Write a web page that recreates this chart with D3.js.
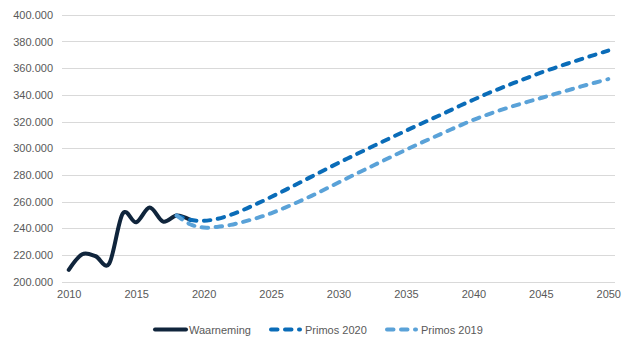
<!DOCTYPE html>
<html>
<head>
<meta charset="utf-8">
<script src="https://cdn.jsdelivr.net/npm/d3@7/dist/d3.min.js"></script>
<style>
  html, body { margin: 0; padding: 0; background: #ffffff; }
  svg { display: block; font-family: "Liberation Sans", Arial, sans-serif; }
</style>
</head>
<body>
<svg id="chart" width="629" height="340"></svg>
<script>
// Population figures (thousands) per year
const years = d3.range(2010, 2051);
const yTicks = [200, 220, 240, 260, 280, 300, 320, 340, 360, 380, 400];
const xTickYears = [2010, 2015, 2020, 2025, 2030, 2035, 2040, 2045, 2050];

const waarnemingYears = [2010, 2011, 2012, 2013, 2014, 2015, 2016, 2017, 2018, 2019];
const waarneming = [208.8, 220.5, 219.0, 213.5, 251.0, 244.5, 255.5, 245.0, 249.5, 246.3];

const primosYears = d3.range(2018, 2051);
const primos2020 = [
  249.5, 246.3, 245.6, 247.0, 250.0, 254.0, 258.6, 263.4, 268.4, 273.5,
  278.7, 283.9, 289.0, 293.9, 298.8, 303.6, 308.4, 313.1, 317.8, 322.4,
  327.0, 331.8, 336.3, 340.8, 344.9, 348.9, 352.8, 356.6, 360.1, 363.5,
  366.8, 370.0, 373.2
];
const primos2019 = [
  249.5, 243.0, 240.5, 241.0, 242.5, 245.0, 247.8, 251.2, 255.3, 259.7,
  264.3, 269.2, 274.3, 279.3, 284.2, 289.1, 294.0, 298.8, 303.5, 308.0,
  312.5, 317.0, 321.3, 325.0, 328.5, 331.7, 334.7, 337.6, 340.5, 343.4,
  346.3, 349.1, 351.8
];

const seriesNames = ["Waarneming", "Primos 2020", "Primos 2019"];
const seriesColors = ["#10253c", "#0a6cb8", "#5aa2d8"];

const svg = d3.select("#chart");

const x = d3.scalePoint().domain(years).range([62, 615]).padding(0.5);
const y = d3.scaleLinear().domain([200, 400]).range([281.6, 14.8]);

const fmt = v => d3.format(",")(v * 1000).replace(/,/g, ".");

// horizontal gridlines
svg.append("g")
  .selectAll("line")
  .data(yTicks)
  .join("line")
  .attr("x1", 62).attr("x2", 615)
  .attr("y1", d => Math.round(y(d)) + 0.5)
  .attr("y2", d => Math.round(y(d)) + 0.5)
  .attr("stroke", "#d9d9d9")
  .attr("stroke-width", 1);

// y axis labels
const yAxis = d3.axisLeft(y).tickValues(yTicks).tickFormat(fmt).tickSize(0).tickPadding(0);
svg.append("g")
  .attr("transform", "translate(53,0)")
  .call(yAxis)
  .call(g => g.select(".domain").remove())
  .call(g => g.selectAll("text")
    .attr("fill", "#595959")
    .style("font-size", "11px")
    .style("font-family", "'Liberation Sans', Arial, sans-serif"));

// x axis labels
const xAxis = d3.axisBottom(x).tickValues(xTickYears).tickSize(0).tickPadding(0);
svg.append("g")
  .attr("transform", "translate(0,290)")
  .call(xAxis)
  .call(g => g.select(".domain").remove())
  .call(g => g.selectAll("text")
    .attr("fill", "#595959")
    .style("font-size", "11px")
    .style("font-family", "'Liberation Sans', Arial, sans-serif"));

const line = d3.line()
  .x(d => x(d[0]))
  .y(d => y(d[1]))
  .curve(d3.curveCardinal.tension(0));

const plotSeries = [
  { yrs: waarnemingYears, vals: waarneming, dash: null },
  { yrs: primosYears, vals: primos2020, dash: "6.5,7.5" },
  { yrs: primosYears, vals: primos2019, dash: "6.5,7.5" }
];

plotSeries.forEach((s, i) => {
  svg.append("path")
    .datum(s.yrs.map((yr, j) => [yr, s.vals[j]]))
    .attr("d", line)
    .attr("fill", "none")
    .attr("stroke", seriesColors[i])
    .attr("stroke-width", 4)
    .attr("stroke-linecap", "round")
    .attr("stroke-linejoin", "round")
    .attr("stroke-dasharray", s.dash);
});

// legend
const legendItems = [
  { x0: 155, x1: 186, tx: 189 },
  { x0: 271, x1: 300, tx: 305 },
  { x0: 387, x1: 416, tx: 421 }
];
const legend = svg.append("g");
legendItems.forEach((it, i) => {
  legend.append("line")
    .attr("x1", it.x0).attr("x2", it.x1)
    .attr("y1", 329.5).attr("y2", 329.5)
    .attr("stroke", seriesColors[i])
    .attr("stroke-width", 4)
    .attr("stroke-linecap", "round")
    .attr("stroke-dasharray", plotSeries[i].dash);
  legend.append("text")
    .attr("x", it.tx).attr("y", 333.5)
    .attr("fill", "#595959")
    .style("font-size", "11px")
    .text(seriesNames[i]);
});
</script>
</body>
</html>
